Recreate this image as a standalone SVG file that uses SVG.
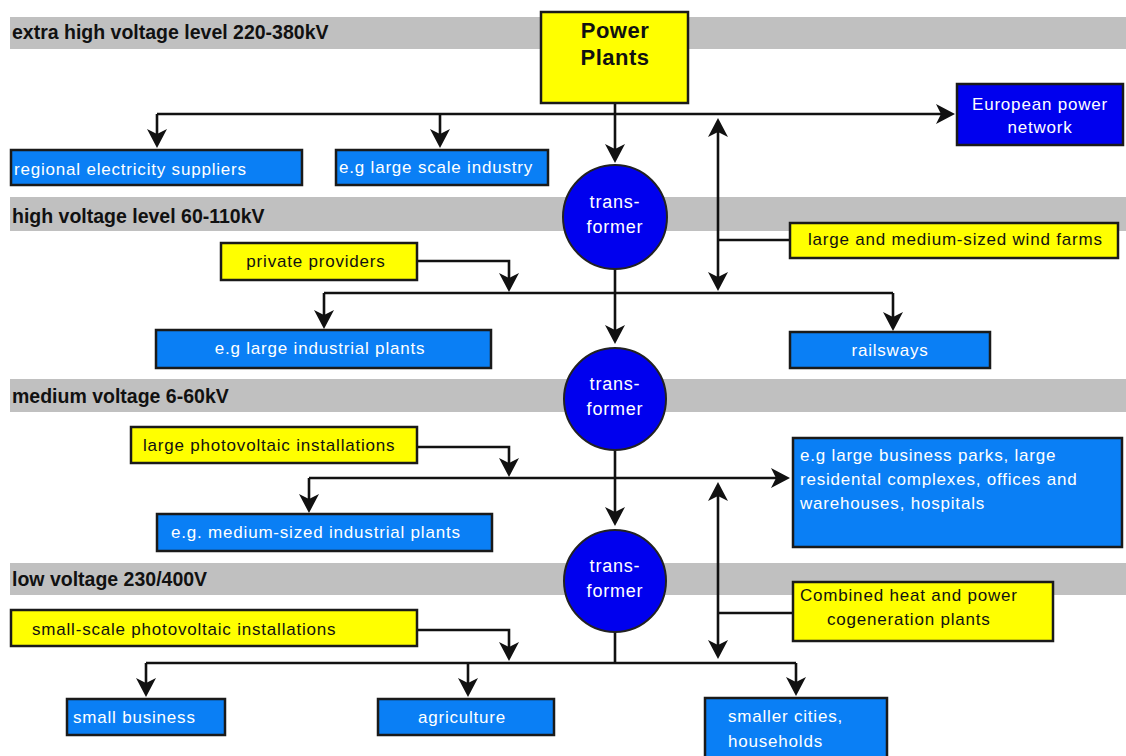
<svg xmlns="http://www.w3.org/2000/svg" width="1126" height="756" viewBox="0 0 1126 756">
  <style>
    .band { fill: #c0c0c0; }
    .band-label { font-family: "Liberation Sans", Arial, sans-serif; font-weight: bold; font-size: 19.5px; fill: #111; }
    .source { fill: #ffff00; stroke: #1a1a1a; stroke-width: 2.5; }
    .consumer { fill: #0a7ff5; stroke: #1a1a1a; stroke-width: 2.5; }
    .grid { fill: #0000ee; stroke: #1a1a1a; stroke-width: 2.5; }
    .xfmr { fill: #0000ee; stroke: #222; stroke-width: 2; }
    .t { font-family: "Liberation Sans", Arial, sans-serif; font-size: 17px; letter-spacing: 0.8px; }
    .xt { font-family: "Liberation Sans", Arial, sans-serif; font-size: 18px; letter-spacing: 0.8px; fill: #ffffff; text-anchor: middle; }
    .dark { fill: #111; }
    .light { fill: #ffffff; }
    .mid { text-anchor: middle; }
    .title { font-family: "Liberation Sans", Arial, sans-serif; font-weight: bold; font-size: 22px; letter-spacing: 0.5px; fill: #111; text-anchor: middle; }
    .wire { fill: none; stroke: #111; stroke-width: 2.6; }
    .arrow { marker-end: url(#head); }
  </style>
  <defs>
    <!-- barbed arrowhead; its tip sits 4px past the end of the wire -->
    <marker id="head" markerUnits="userSpaceOnUse" viewBox="-16 -11 21 22" markerWidth="21" markerHeight="22" refX="0" refY="0" orient="auto">
      <path d="M4,0 L-15,-10 L-10,0 L-15,10 Z" fill="#111"/>
    </marker>
  </defs>

  <!-- voltage level bands -->
  <g id="levels">
    <rect class="band" x="10" y="17" width="1116" height="32"/>
    <text class="band-label" x="12" y="39">extra high voltage level 220-380kV</text>
    <rect class="band" x="10" y="197" width="1116" height="34"/>
    <text class="band-label" x="12" y="223">high voltage level 60-110kV</text>
    <rect class="band" x="10" y="379" width="1116" height="33"/>
    <text class="band-label" x="12" y="403">medium voltage 6-60kV</text>
    <rect class="band" x="10" y="563" width="1116" height="32"/>
    <text class="band-label" x="12" y="586">low voltage 230/400V</text>
  </g>

  <!-- connectors -->
  <g id="connectors">
    <!-- extra high voltage -->
    <path class="wire arrow" d="M615,103 V159"/>
    <path class="wire arrow" d="M157,114 H951"/>
    <path class="wire arrow" d="M157,114 V144"/>
    <path class="wire arrow" d="M440,114 V144"/>
    <path class="wire" d="M790,240 H718"/>
    <path class="wire arrow" d="M718,240 V122"/>
    <path class="wire arrow" d="M718,240 V287"/>
    <!-- high voltage -->
    <path class="wire arrow" d="M615,269 V340"/>
    <path class="wire" d="M324,293 H893"/>
    <path class="wire arrow" d="M417,261 H509 V288"/>
    <path class="wire arrow" d="M324,293 V325"/>
    <path class="wire arrow" d="M893,293 V327"/>
    <!-- medium voltage -->
    <path class="wire arrow" d="M615,450 V522"/>
    <path class="wire arrow" d="M309,478 H786"/>
    <path class="wire arrow" d="M417,447 H509 V473"/>
    <path class="wire arrow" d="M309,478 V509"/>
    <path class="wire" d="M793,613 H718"/>
    <path class="wire arrow" d="M718,613 V486"/>
    <path class="wire arrow" d="M718,613 V655"/>
    <!-- low voltage -->
    <path class="wire" d="M615,632 V663"/>
    <path class="wire" d="M146,663 H796"/>
    <path class="wire arrow" d="M417,630 H509 V657"/>
    <path class="wire arrow" d="M146,663 V693"/>
    <path class="wire arrow" d="M468,663 V693"/>
    <path class="wire arrow" d="M796,663 V692"/>
  </g>

  <!-- nodes -->
  <g id="power-plants">
    <rect class="source" x="541" y="12" width="147" height="91"/>
    <text class="title" x="615" y="38">Power</text>
    <text class="title" x="615" y="65">Plants</text>
  </g>

  <g id="regional-suppliers">
    <rect class="consumer" x="11" y="150" width="291" height="35"/>
    <text class="t light" x="14" y="175">regional electricity suppliers</text>
  </g>

  <g id="large-scale-industry">
    <rect class="consumer" x="336" y="150" width="212" height="35"/>
    <text class="t light" x="339" y="173">e.g large scale industry</text>
  </g>

  <g id="european-network">
    <rect class="grid" x="957" y="84" width="166" height="61"/>
    <text class="t light mid" x="1040" y="110">European power</text>
    <text class="t light mid" x="1040" y="133">network</text>
  </g>

  <g id="transformer-1">
    <circle class="xfmr" cx="615" cy="217" r="52"/>
    <text class="xt" x="615" y="208">trans-</text>
    <text class="xt" x="615" y="233">former</text>
  </g>

  <g id="wind-farms">
    <rect class="source" x="790" y="223" width="328" height="35"/>
    <text class="t dark" x="808" y="245">large and medium-sized wind farms</text>
  </g>

  <g id="private-providers">
    <rect class="source" x="221" y="243" width="196" height="37"/>
    <text class="t dark mid" x="316" y="267">private providers</text>
  </g>

  <g id="large-industrial-plants">
    <rect class="consumer" x="156" y="330" width="335" height="38"/>
    <text class="t light mid" x="320" y="354">e.g large industrial plants</text>
  </g>

  <g id="railsways">
    <rect class="consumer" x="790" y="332" width="200" height="36"/>
    <text class="t light mid" x="890" y="356">railsways</text>
  </g>

  <g id="transformer-2">
    <circle class="xfmr" cx="615" cy="399" r="51"/>
    <text class="xt" x="615" y="390">trans-</text>
    <text class="xt" x="615" y="415">former</text>
  </g>

  <g id="large-photovoltaic">
    <rect class="source" x="131" y="427" width="286" height="36"/>
    <text class="t dark" x="143" y="451">large photovoltaic installations</text>
  </g>

  <g id="business-parks">
    <rect class="consumer" x="793" y="438" width="329" height="109"/>
    <text class="t light" x="800" y="461">e.g large business parks, large</text>
    <text class="t light" x="800" y="485">residental complexes, offices and</text>
    <text class="t light" x="800" y="509">warehouses, hospitals</text>
  </g>

  <g id="medium-industrial-plants">
    <rect class="consumer" x="157" y="514" width="335" height="37"/>
    <text class="t light" x="171" y="538">e.g. medium-sized industrial plants</text>
  </g>

  <g id="transformer-3">
    <circle class="xfmr" cx="615" cy="581" r="51"/>
    <text class="xt" x="615" y="572">trans-</text>
    <text class="xt" x="615" y="597">former</text>
  </g>

  <g id="chp-plants">
    <rect class="source" x="793" y="582" width="260" height="59"/>
    <text class="t dark" x="800" y="601">Combined heat and power</text>
    <text class="t dark" x="827" y="625">cogeneration plants</text>
  </g>

  <g id="small-photovoltaic">
    <rect class="source" x="11" y="610" width="406" height="36"/>
    <text class="t dark" x="32" y="635">small-scale photovoltaic installations</text>
  </g>

  <g id="small-business">
    <rect class="consumer" x="67" y="699" width="158" height="36"/>
    <text class="t light" x="73" y="723">small business</text>
  </g>

  <g id="agriculture">
    <rect class="consumer" x="378" y="699" width="176" height="36"/>
    <text class="t light mid" x="462" y="723">agriculture</text>
  </g>

  <g id="smaller-cities">
    <rect class="consumer" x="705" y="698" width="182" height="62"/>
    <text class="t light" x="728" y="722">smaller cities,</text>
    <text class="t light" x="728" y="747">households</text>
  </g>
</svg>
